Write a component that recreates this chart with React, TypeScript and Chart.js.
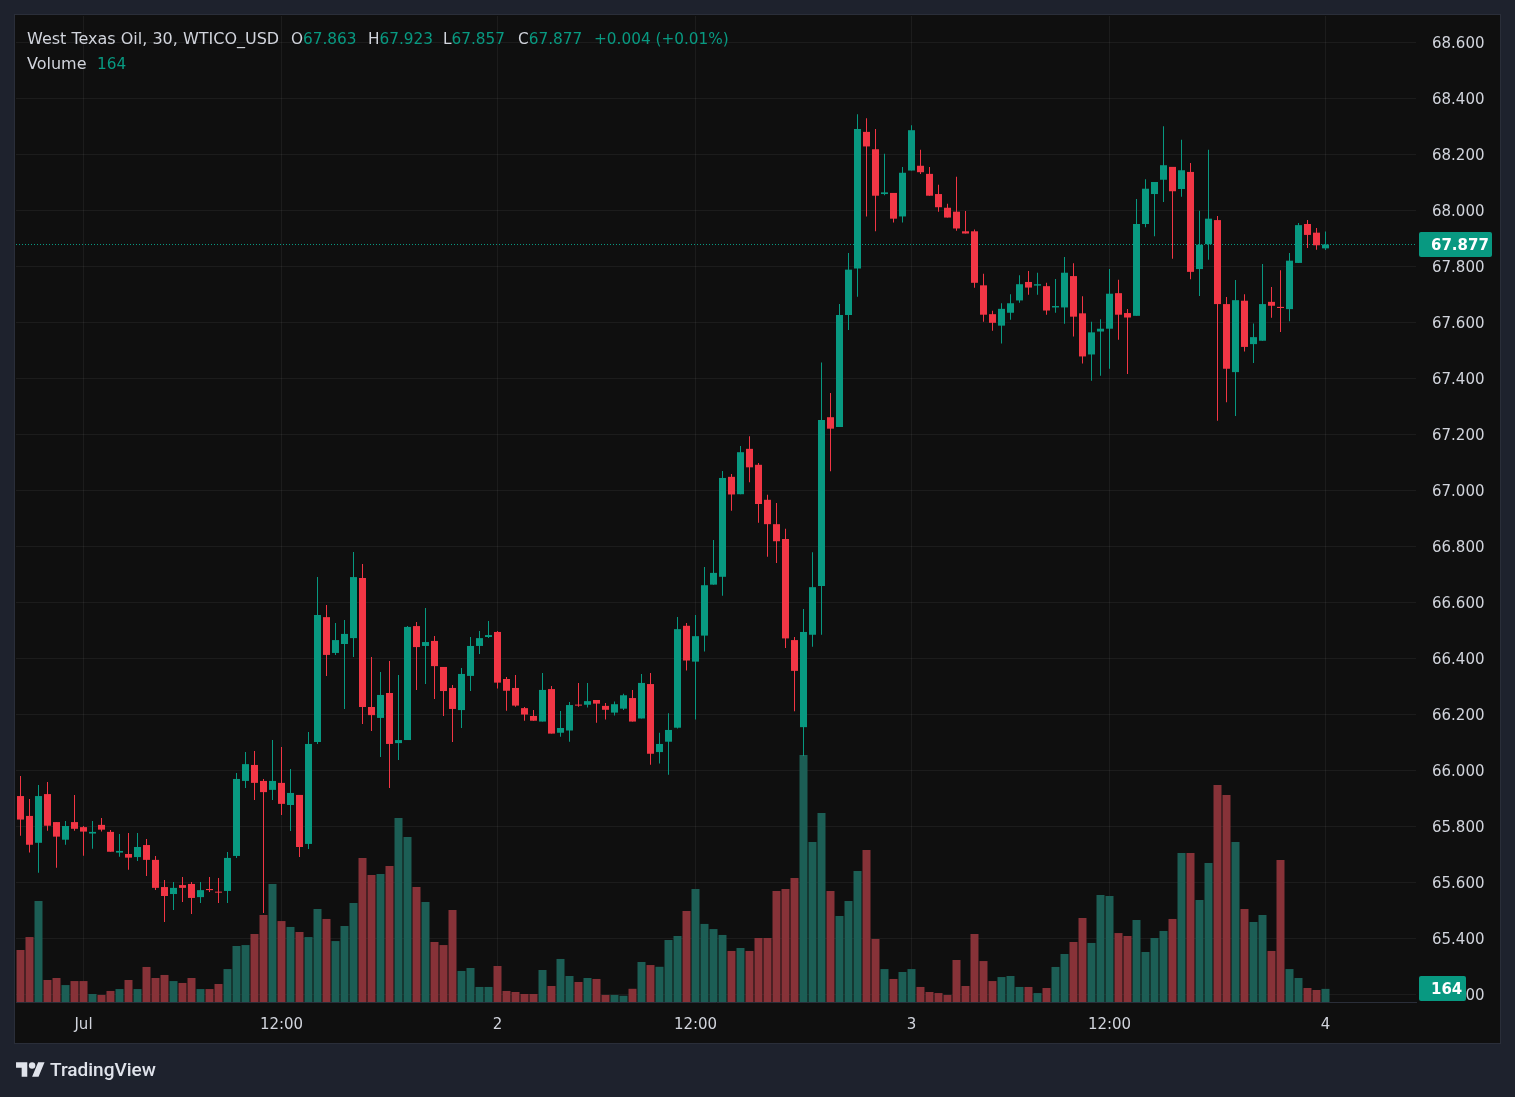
import React, { useEffect, useRef } from "react";
import { Chart, registerables } from "chart.js";

Chart.register(...registerables);

// ---------- DATA (30-minute candles, WTICO_USD) ----------
const opens = [
  65.907, 65.836, 65.740, 65.914, 65.814, 65.751, 65.814, 65.796, 65.773, 65.804,
  65.779, 65.705, 65.700, 65.689, 65.732, 65.679, 65.582, 65.557, 65.589, 65.593,
  65.546, 65.575, 65.564, 65.568, 65.693, 65.961, 66.018, 65.961, 65.929, 65.954,
  65.875, 65.911, 65.736, 66.100, 66.546, 66.418, 66.450, 66.471, 66.686, 66.225,
  66.186, 66.275, 66.096, 66.107, 66.514, 66.443, 66.461, 66.368, 66.293, 66.214,
  66.336, 66.443, 66.475, 66.493, 66.325, 66.293, 66.221, 66.193, 66.173, 66.289,
  66.133, 66.141, 66.233, 66.233, 66.250, 66.229, 66.205, 66.219, 66.257, 66.184,
  66.307, 66.064, 66.101, 66.151, 66.515, 66.387, 66.480, 66.662, 66.690, 67.047,
  66.985, 67.147, 67.090, 66.965, 66.878, 66.825, 66.464, 66.153, 66.483, 66.657,
  67.260, 67.225, 67.625, 67.791, 68.279, 68.217, 68.057, 68.061, 67.977, 68.141,
  68.158, 68.129, 68.057, 68.008, 67.994, 67.924, 67.924, 67.731, 67.628, 67.587,
  67.633, 67.677, 67.743, 67.730, 67.728, 67.652, 67.652, 67.764, 67.631, 67.484,
  67.566, 67.576, 67.703, 67.632, 67.622, 67.950, 68.057, 68.108, 68.154, 68.075,
  68.136, 67.789, 67.878, 67.964, 67.664, 67.421, 67.676, 67.521, 67.533, 67.672,
  67.654, 67.646, 67.811, 67.950, 67.919, 67.863,
];
const highs = [
  65.979, 65.896, 65.946, 65.957, 65.814, 65.818, 65.911, 65.800, 65.818, 65.829,
  65.786, 65.771, 65.775, 65.775, 65.754, 65.693, 65.607, 65.600, 65.618, 65.600,
  65.600, 65.618, 65.614, 65.707, 65.989, 66.064, 66.068, 65.968, 66.107, 66.082,
  66.004, 65.911, 66.136, 66.689, 66.589, 66.525, 66.536, 66.779, 66.736, 66.404,
  66.350, 66.389, 66.339, 66.514, 66.529, 66.579, 66.479, 66.368, 66.304, 66.364,
  66.475, 66.496, 66.532, 66.496, 66.332, 66.339, 66.225, 66.214, 66.346, 66.300,
  66.211, 66.243, 66.311, 66.311, 66.250, 66.239, 66.245, 66.272, 66.286, 66.343,
  66.346, 66.133, 66.203, 66.546, 66.525, 66.554, 66.725, 66.821, 67.068, 67.057,
  67.157, 67.192, 67.096, 66.983, 66.954, 66.862, 66.475, 66.575, 66.778, 67.455,
  67.346, 67.664, 67.846, 68.342, 68.328, 68.289, 68.201, 68.061, 68.154, 68.303,
  68.215, 68.154, 68.090, 68.022, 68.119, 67.996, 67.930, 67.772, 67.640, 67.667,
  67.699, 67.767, 67.782, 67.776, 67.740, 67.754, 67.832, 67.810, 67.692, 67.601,
  67.610, 67.789, 67.751, 67.646, 68.039, 68.110, 68.100, 68.299, 68.154, 68.251,
  68.168, 67.997, 68.215, 67.979, 67.689, 67.750, 67.699, 67.595, 67.807, 67.725,
  67.785, 67.846, 67.954, 67.964, 67.936, 67.923,
];
const lows = [
  65.765, 65.705, 65.633, 65.783, 65.651, 65.733, 65.783, 65.694, 65.719, 65.780,
  65.708, 65.690, 65.644, 65.675, 65.621, 65.571, 65.457, 65.500, 65.529, 65.486,
  65.525, 65.564, 65.525, 65.525, 65.686, 65.936, 65.893, 65.489, 65.893, 65.839,
  65.782, 65.689, 65.718, 66.093, 66.336, 66.411, 66.218, 66.404, 66.164, 66.139,
  66.046, 65.936, 66.036, 66.107, 66.286, 66.307, 66.254, 66.193, 66.100, 66.150,
  66.282, 66.414, 66.471, 66.291, 66.212, 66.226, 66.176, 66.176, 66.173, 66.130,
  66.119, 66.101, 66.226, 66.223, 66.169, 66.180, 66.195, 66.214, 66.173, 66.184,
  66.019, 66.023, 65.983, 66.148, 66.355, 66.180, 66.423, 66.662, 66.622, 66.926,
  66.985, 67.028, 66.883, 66.762, 66.739, 66.436, 66.210, 66.050, 66.440, 66.483,
  67.067, 67.225, 67.571, 67.690, 67.977, 67.924, 68.053, 67.955, 67.955, 68.141,
  68.129, 68.051, 67.994, 67.973, 67.926, 67.916, 67.722, 67.601, 67.569, 67.523,
  67.608, 67.669, 67.697, 67.697, 67.626, 67.633, 67.594, 67.548, 67.452, 67.390,
  67.408, 67.433, 67.537, 67.414, 67.622, 67.938, 67.906, 68.029, 67.826, 68.047,
  67.753, 67.693, 67.822, 67.247, 67.313, 67.264, 67.495, 67.454, 67.533, 67.615,
  67.564, 67.603, 67.811, 67.864, 67.858, 67.857,
];
const closes = [
  65.823, 65.733, 65.907, 65.801, 65.762, 65.800, 65.790, 65.780, 65.779, 65.787,
  65.708, 65.711, 65.687, 65.725, 65.679, 65.579, 65.550, 65.579, 65.579, 65.543,
  65.571, 65.571, 65.562, 65.686, 65.968, 66.021, 65.954, 65.921, 65.961, 65.879,
  65.918, 65.725, 66.093, 66.554, 66.411, 66.464, 66.486, 66.689, 66.225, 66.196,
  66.268, 66.093, 66.107, 66.511, 66.439, 66.457, 66.371, 66.282, 66.218, 66.343,
  66.443, 66.471, 66.482, 66.312, 66.283, 66.230, 66.198, 66.176, 66.286, 66.130,
  66.150, 66.232, 66.230, 66.246, 66.237, 66.215, 66.235, 66.267, 66.173, 66.311,
  66.058, 66.093, 66.143, 66.503, 66.391, 66.478, 66.660, 66.704, 67.043, 66.984,
  67.135, 67.081, 66.950, 66.878, 66.817, 66.470, 66.354, 66.493, 66.653, 67.250,
  67.219, 67.625, 67.787, 68.289, 68.227, 68.051, 68.063, 67.969, 68.133, 68.285,
  68.135, 68.051, 68.010, 67.973, 67.934, 67.916, 67.740, 67.626, 67.597, 67.647,
  67.667, 67.735, 67.723, 67.735, 67.641, 67.657, 67.776, 67.619, 67.477, 67.563,
  67.576, 67.701, 67.626, 67.616, 67.950, 68.076, 68.100, 68.160, 68.067, 68.142,
  67.779, 67.876, 67.969, 67.664, 67.433, 67.678, 67.511, 67.546, 67.664, 67.658,
  67.650, 67.819, 67.946, 67.911, 67.874, 67.877,
];
const volumes = [
  650, 812, 1262, 275, 300, 212, 262, 262, 100, 88,
  138, 162, 275, 162, 438, 300, 338, 262, 238, 300,
  162, 162, 225, 412, 700, 712, 850, 1088, 1475, 1012,
  938, 875, 812, 1162, 1038, 762, 950, 1238, 1800, 1588,
  1600, 1700, 2300, 2062, 1438, 1250, 750, 712, 1150, 388,
  425, 188, 188, 450, 138, 125, 100, 100, 400, 200,
  538, 325, 250, 300, 288, 88, 88, 78, 165, 500,
  462, 440, 775, 825, 1138, 1412, 976, 912, 838, 638,
  675, 638, 800, 800, 1388, 1412, 1550, 3088, 2000, 2362,
  1388, 1075, 1262, 1638, 1900, 788, 412, 288, 375, 412,
  188, 125, 112, 88, 525, 200, 850, 512, 262, 312,
  325, 188, 188, 112, 175, 438, 600, 750, 1050, 738,
  1338, 1325, 862, 825, 1025, 625, 800, 888, 1038, 1862,
  1862, 1275, 1738, 2712, 2588, 2000, 1162, 1000, 1088, 638,
  1775, 412, 300, 175, 150, 164,
];

const timeTickIndex = [7, 29, 53, 75, 99, 121, 145];
const timeTickLabels = ["Jul", "12:00", "2", "12:00", "3", "12:00", "4"];
const priceTicks = [
  65.2, 65.4, 65.6, 65.8, 66.0, 66.2, 66.4, 66.6, 66.8, 67.0,
  67.2, 67.4, 67.6, 67.8, 68.0, 68.2, 68.4, 68.6,
];
const lastPrice = 67.877;
const lastVolume = 164;

// ---------- STYLE ----------
const OUTER = "#1e222d";
const PANE = "#0f0f0f";
const PANE_BORDER = "#2a2e39";
const GRID = "rgba(242,242,242,0.06)";
const UP = "#089981";
const DOWN = "#f23645";
const UP_VOL = "#1c5e55";
const DOWN_VOL = "#873238";
const TEXT = "#d1d4dc";
const FONT = "'DejaVu Sans', sans-serif";

const idx = opens.map((_, i) => i);
const isUp = idx.map((i) => closes[i] >= opens[i]);

const decorPlugin = {
  id: "decor",
  beforeDraw(chart: any) {
    const { ctx } = chart;
    ctx.save();
    ctx.fillStyle = OUTER;
    ctx.fillRect(0, 0, chart.width, chart.height);
    ctx.fillStyle = PANE;
    ctx.fillRect(15, 15, 1485, 1028);
    ctx.strokeStyle = PANE_BORDER;
    ctx.lineWidth = 1;
    ctx.strokeRect(14.5, 14.5, 1486, 1029);
    ctx.restore();
  },
  beforeDatasetsDraw(chart: any) {
    const { ctx, chartArea } = chart;
    const y = Math.round(chart.scales.y.getPixelForValue(lastPrice)) + 0.5;
    ctx.save();
    ctx.strokeStyle = UP;
    ctx.lineWidth = 1;
    ctx.setLineDash([1, 2]);
    ctx.beginPath();
    ctx.moveTo(chartArea.left, y);
    ctx.lineTo(chartArea.right, y);
    ctx.stroke();
    ctx.restore();
  },
  afterDraw(chart: any) {
    const { ctx, chartArea } = chart;
    const drawBox = (yc: number, w: number, text: string) => {
      const h = 25;
      const x = chartArea.right + 3;
      const y = yc - h / 2;
      ctx.save();
      ctx.fillStyle = UP;
      ctx.beginPath();
      (ctx as any).roundRect(x, y, w, h, 2);
      ctx.fill();
      ctx.fillStyle = "#ffffff";
      ctx.font = `bold 15px ${FONT}`;
      ctx.textAlign = "left";
      ctx.textBaseline = "middle";
      ctx.fillText(text, x + 12, yc + 1.5);
      ctx.restore();
    };
    drawBox(chart.scales.y.getPixelForValue(lastPrice), 73, lastPrice.toFixed(3));
    drawBox(chart.scales.vol.getPixelForValue(lastVolume) - 0.5, 47, String(lastVolume));
  },
};

export default function App() {
  const ref = useRef<HTMLCanvasElement>(null);

  useEffect(() => {
    document.body.style.margin = "0";
    const canvas = ref.current;
    if (!canvas) return;

    const chart = new Chart(canvas, {
      type: "bar",
      data: {
        datasets: [
          {
            label: "body",
            data: idx.map((i) => ({ x: i, y: [opens[i], closes[i]] })) as any,
            backgroundColor: isUp.map((u) => (u ? UP : DOWN)),
            barThickness: 7,
            grouped: false,
            minBarLength: 1,
            inflateAmount: 0,
            borderWidth: 0,
            order: 0,
            yAxisID: "y",
          } as any,
          {
            label: "wick",
            data: idx.map((i) => ({ x: i, y: [lows[i], highs[i]] })) as any,
            backgroundColor: isUp.map((u) => (u ? UP : DOWN)),
            barThickness: 1,
            grouped: false,
            inflateAmount: 0,
            borderWidth: 0,
            order: 1,
            yAxisID: "y",
          } as any,
          {
            label: "volume",
            data: idx.map((i) => ({ x: i, y: volumes[i] })) as any,
            backgroundColor: isUp.map((u) => (u ? UP_VOL : DOWN_VOL)),
            barThickness: 8,
            grouped: false,
            inflateAmount: 0,
            borderWidth: 0,
            order: 2,
            yAxisID: "vol",
          } as any,
        ],
      },
      options: {
        responsive: false,
        animation: false,
        devicePixelRatio: 1,
        events: [],
        layout: { padding: { left: 16, top: 16, right: 15, bottom: 54 } },
        plugins: { legend: { display: false }, tooltip: { enabled: false } },
        scales: {
          x: {
            type: "linear",
            min: -0.5,
            max: 155.056,
            offset: false,
            afterBuildTicks: (s: any) => {
              s.ticks = timeTickIndex.map((v) => ({ value: v }));
            },
            afterFit: (s: any) => {
              s.height = 41;
              s.paddingLeft = 0;
              s.paddingRight = 0;
            },
            ticks: {
              autoSkip: false,
              maxRotation: 0,
              padding: 14,
              color: TEXT,
              font: { family: FONT, size: 15 },
              callback: (v: any) => {
                const k = timeTickIndex.indexOf(Number(v));
                return k >= 0 ? timeTickLabels[k] : "";
              },
            },
            grid: { color: GRID, drawTicks: false, offset: false },
            border: { display: true, color: "#2a2e39" },
          } as any,
          y: {
            type: "linear",
            position: "right",
            min: 65.17143,
            max: 68.69286,
            afterBuildTicks: (s: any) => {
              s.ticks = priceTicks.map((v) => ({ value: v }));
            },
            afterFit: (s: any) => {
              s.width = 84;
              s.paddingTop = 0;
              s.paddingBottom = 0;
            },
            ticks: {
              padding: 16,
              labelOffset: 2,
              color: TEXT,
              font: { family: FONT, size: 15 },
              callback: (v: any) => Number(v).toFixed(3),
            },
            grid: { color: GRID, drawTicks: false },
            border: { display: false },
          } as any,
          vol: {
            type: "linear",
            display: false,
            min: 0,
            max: 12325,
          } as any,
        },
      },
      plugins: [decorPlugin as any],
    });

    return () => chart.destroy();
  }, []);

  const legendBase: React.CSSProperties = {
    position: "absolute",
    fontFamily: FONT,
    fontSize: 16,
    lineHeight: "20px",
    whiteSpace: "nowrap",
    color: TEXT,
  };
  const valueBase: React.CSSProperties = { ...legendBase, fontSize: 15.3 };
  const green: React.CSSProperties = { color: UP };

  return (
    <div
      style={{
        position: "absolute",
        left: 0,
        top: 0,
        width: 1515,
        height: 1097,
        overflow: "hidden",
        background: OUTER,
      }}
    >
      <canvas
        ref={ref}
        width={1515}
        height={1097}
        style={{ position: "absolute", left: 0, top: 0, width: 1515, height: 1097 }}
      />
      <div style={{ ...legendBase, left: 27, top: 29 }}>West Texas Oil, 30, WTICO_USD</div>
      <div style={{ ...valueBase, left: 291, top: 29 }}>
        O<span style={green}>67.863</span>
      </div>
      <div style={{ ...valueBase, left: 368, top: 29 }}>
        H<span style={green}>67.923</span>
      </div>
      <div style={{ ...valueBase, left: 443, top: 29 }}>
        L<span style={green}>67.857</span>
      </div>
      <div style={{ ...valueBase, left: 518, top: 29 }}>
        C<span style={green}>67.877</span>
      </div>
      <div style={{ ...valueBase, left: 594, top: 29, ...green }}>+0.004 (+0.01%)</div>
      <div style={{ ...legendBase, left: 27, top: 54 }}>Volume</div>
      <div style={{ ...valueBase, left: 97, top: 54, ...green }}>164</div>

      <svg
        width={29}
        height={22.5}
        viewBox="0 0 36 28"
        style={{ position: "absolute", left: 16, top: 1059 }}
      >
        <path d="M14 22H7V11H0V4h14v18zM28 22h-8l7.5-18h8L28 22z" fill="#e0e3eb" />
        <circle cx="20" cy="8" r="4" fill="#e0e3eb" />
      </svg>
      <div
        style={{
          position: "absolute",
          left: 50,
          top: 1058,
          fontFamily: "Roboto, sans-serif",
          fontWeight: 500,
          fontSize: 19,
          lineHeight: "24px",
          color: "#e0e3eb",
          whiteSpace: "nowrap",
        }}
      >
        TradingView
      </div>
    </div>
  );
}
